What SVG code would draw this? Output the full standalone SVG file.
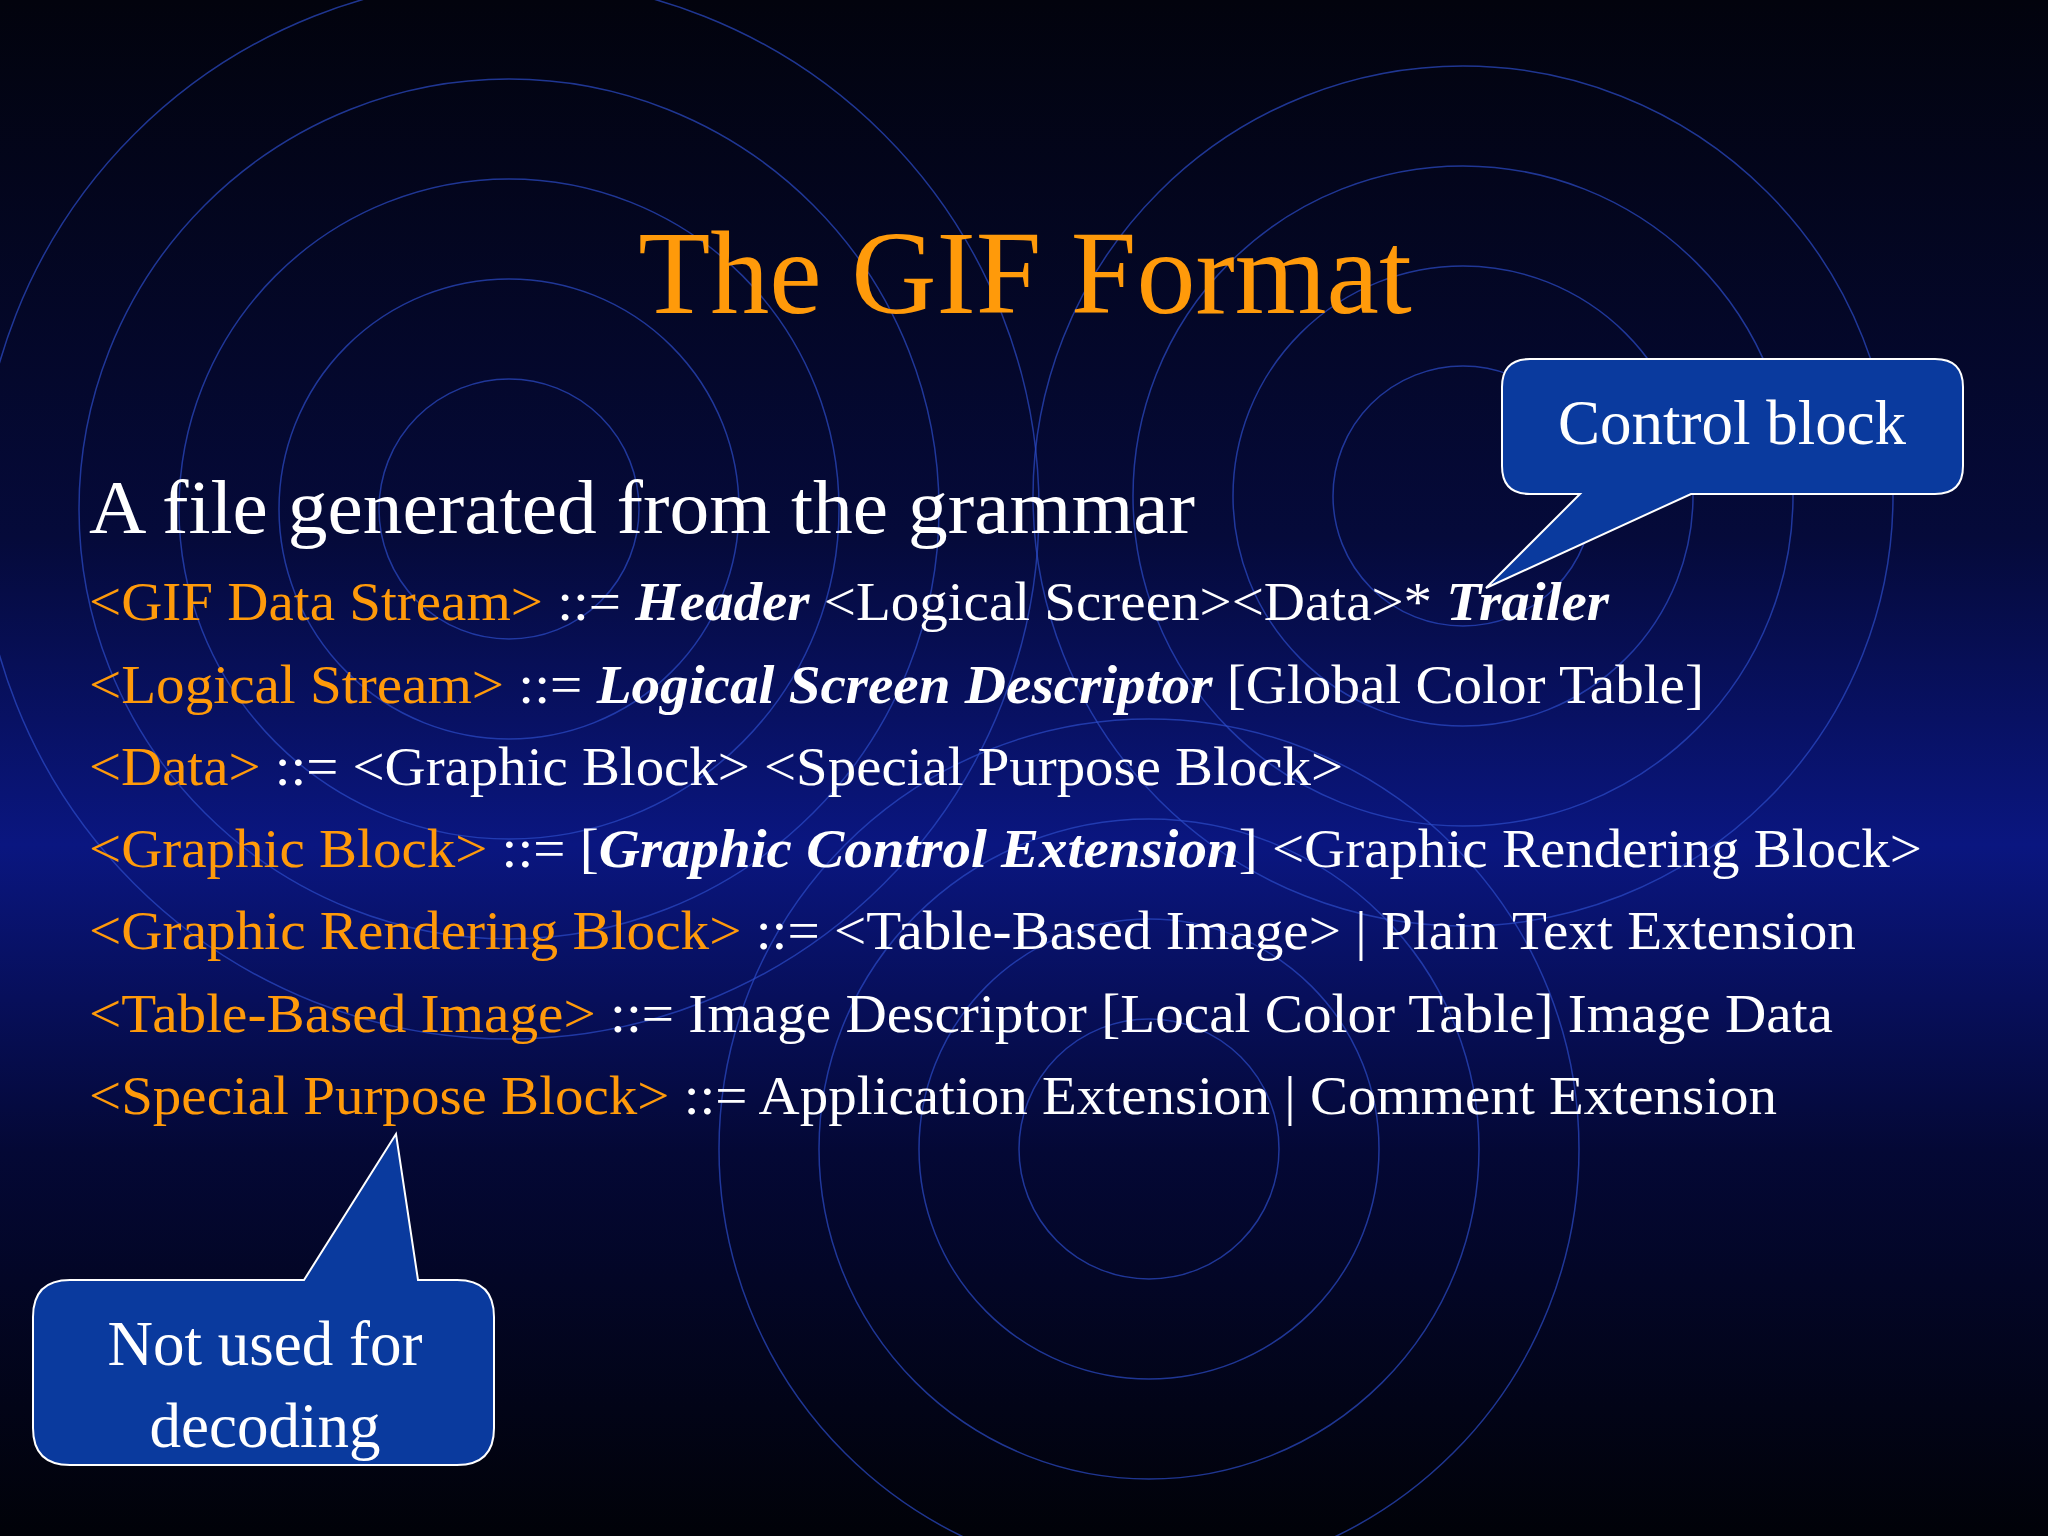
<svg xmlns="http://www.w3.org/2000/svg" width="2048" height="1536" viewBox="0 0 2048 1536">
<defs>
<linearGradient id="bg" x1="0" y1="0" x2="0" y2="1">
<stop offset="0" stop-color="#02030d"/>
<stop offset="0.35" stop-color="#050a3a"/>
<stop offset="0.55" stop-color="#0a1680"/>
<stop offset="0.75" stop-color="#040835"/>
<stop offset="1" stop-color="#010208"/>
</linearGradient>
</defs>
<style>
.ring{fill:none;stroke:#2c4cc8;stroke-width:1.5;opacity:0.7}
.g{font-family:"Liberation Serif",serif;font-size:55px;fill:#ffffff}
.o{fill:#ff9a0a}
.b{font-weight:bold;font-style:italic}
.call{fill:#0a3a9e;stroke:#ffffff;stroke-width:2}
.ct{font-family:"Liberation Serif",serif;font-size:63px;fill:#ffffff;text-anchor:middle}
</style>
<rect width="2048" height="1536" fill="url(#bg)"/>
<g id="rings">
<circle class="ring" cx="509" cy="509" r="130"/><circle class="ring" cx="509" cy="509" r="230"/><circle class="ring" cx="509" cy="509" r="330"/><circle class="ring" cx="509" cy="509" r="430"/><circle class="ring" cx="509" cy="509" r="530"/>
<circle class="ring" cx="1463" cy="496" r="130"/><circle class="ring" cx="1463" cy="496" r="230"/><circle class="ring" cx="1463" cy="496" r="330"/><circle class="ring" cx="1463" cy="496" r="430"/>
<circle class="ring" cx="1149" cy="1149" r="130"/><circle class="ring" cx="1149" cy="1149" r="230"/><circle class="ring" cx="1149" cy="1149" r="330"/><circle class="ring" cx="1149" cy="1149" r="430"/>
</g>
<g id="title"><text x="1025" y="313" font-family="Liberation Serif,serif" font-size="118" fill="#ff9a0a" text-anchor="middle">The GIF Format</text></g>
<g id="subtitle"><text x="89" y="533" font-family="Liberation Serif,serif" font-size="76" fill="#ffffff" textLength="1106" lengthAdjust="spacingAndGlyphs">A file generated from the grammar</text></g>
<g id="grammar">
<text class="g" x="89" y="620" textLength="1520" lengthAdjust="spacingAndGlyphs"><tspan class="o">&lt;GIF Data Stream&gt;</tspan> ::= <tspan class="b">Header</tspan> &lt;Logical Screen&gt;&lt;Data&gt;* <tspan class="b">Trailer</tspan></text>
<text class="g" x="89" y="703" textLength="1615" lengthAdjust="spacingAndGlyphs"><tspan class="o">&lt;Logical Stream&gt;</tspan> ::= <tspan class="b">Logical Screen Descriptor</tspan> [Global Color Table]</text>
<text class="g" x="89" y="785" textLength="1254" lengthAdjust="spacingAndGlyphs"><tspan class="o">&lt;Data&gt;</tspan> ::= &lt;Graphic Block&gt; &lt;Special Purpose Block&gt;</text>
<text class="g" x="89" y="867" textLength="1833" lengthAdjust="spacingAndGlyphs"><tspan class="o">&lt;Graphic Block&gt;</tspan> ::= [<tspan class="b">Graphic Control Extension</tspan>] &lt;Graphic Rendering Block&gt;</text>
<text class="g" x="89" y="949" textLength="1767" lengthAdjust="spacingAndGlyphs"><tspan class="o">&lt;Graphic Rendering Block&gt;</tspan> ::= &lt;Table-Based Image&gt; | Plain Text Extension</text>
<text class="g" x="89" y="1032" textLength="1744" lengthAdjust="spacingAndGlyphs"><tspan class="o">&lt;Table-Based Image&gt;</tspan> ::= Image Descriptor [Local Color Table] Image Data</text>
<text class="g" x="89" y="1114" textLength="1688" lengthAdjust="spacingAndGlyphs"><tspan class="o">&lt;Special Purpose Block&gt;</tspan> ::= Application Extension | Comment Extension</text>
</g>
<g id="callout-control">
<path class="call" d="M1530,359 H1935 Q1963,359 1963,387 V466 Q1963,494 1935,494 H1691 L1486,588 L1580,494 H1530 Q1502,494 1502,466 V387 Q1502,359 1530,359 Z"/>
<text class="ct" x="1732" y="444">Control block</text>
</g>
<g id="callout-notused">
<path class="call" d="M70,1280 H304 L396,1134 L418,1280 H457 Q494,1280 494,1317 V1428 Q494,1465 457,1465 H70 Q33,1465 33,1428 V1317 Q33,1280 70,1280 Z"/>
<text class="ct" x="265" y="1365">Not used for</text>
<text class="ct" x="265" y="1447">decoding</text>
</g>
</svg>
